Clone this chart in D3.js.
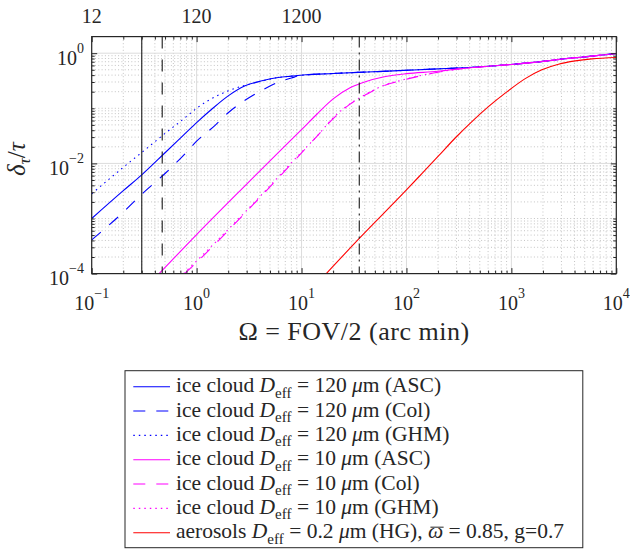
<!DOCTYPE html>
<html>
<head>
<meta charset="utf-8">
<script src="https://cdn.jsdelivr.net/npm/d3@7"></script>
<style>
html, body { margin: 0; padding: 0; background: #fff; }
svg { display: block; }
text { font-family: "Liberation Serif", "Times New Roman", serif; fill: #262626; }
</style>
</head>
<body>
<svg id="chart" width="630" height="549"></svg>
<script>
// ---- data: half field of view Ω (arc min) and relative error δτ/τ ----
const omegaIce120ASC = [0.1, 0.2, 0.3, 0.5, 0.75, 1, 1.4, 2, 2.9, 4.2, 6, 8, 11, 20, 35, 60, 100, 200, 300, 600, 1000, 2000, 3000, 5000, 10000];
const deltaIce120ASC = [1.0e-3, 3.2e-3, 6.2e-3, 0.0156, 0.0326, 0.055, 0.097, 0.168, 0.256, 0.315, 0.362, 0.383, 0.405, 0.428, 0.449, 0.468, 0.49, 0.52, 0.535, 0.58, 0.625, 0.71, 0.78, 0.857, 0.99];

const omegaIce120Col = [0.1, 0.2, 0.3, 0.5, 0.75, 1, 1.5, 2, 2.7, 4.2, 6.5, 8, 10, 11, 20, 35, 60, 100, 200, 300, 600, 1000, 2000, 3000, 5000, 10000];
const deltaIce120Col = [4.1e-4, 1.3e-3, 2.76e-3, 6.56e-3, 0.014, 0.0253, 0.049, 0.083, 0.128, 0.213, 0.315, 0.355, 0.398, 0.405, 0.428, 0.449, 0.468, 0.49, 0.52, 0.535, 0.58, 0.625, 0.71, 0.78, 0.857, 0.99];

const omegaIce120GHM = [0.1, 0.2, 0.3, 0.5, 0.75, 1, 1.27, 2, 3.7, 6, 8, 11, 20, 35, 60, 100, 200, 300, 600, 1000, 2000, 3000, 5000, 10000];
const deltaIce120GHM = [2.8e-3, 8.5e-3, 0.0158, 0.035, 0.064, 0.10, 0.136, 0.207, 0.294, 0.362, 0.383, 0.405, 0.428, 0.449, 0.468, 0.49, 0.52, 0.535, 0.58, 0.625, 0.71, 0.78, 0.857, 0.99];

const omegaIce10ASC = [0.44, 1, 3, 5, 10, 14, 20, 29, 42, 60, 100, 200, 300, 600, 1000, 2000, 3000, 5000, 10000];
const deltaIce10ASC = [1.0e-4, 5.1e-4, 4.2e-3, 0.0111, 0.041, 0.078, 0.148, 0.235, 0.31, 0.37, 0.425, 0.47, 0.515, 0.578, 0.625, 0.71, 0.78, 0.857, 0.99];

const omegaIce10Col = [0.77, 1, 3, 10, 14, 20, 29, 42, 60, 87, 105, 200, 300, 600, 1000, 2000, 3000, 5000, 10000];
const deltaIce10Col = [1.0e-4, 1.6e-4, 1.35e-3, 0.0155, 0.031, 0.065, 0.119, 0.181, 0.255, 0.315, 0.345, 0.45, 0.51, 0.578, 0.625, 0.71, 0.78, 0.857, 0.99];

const omegaIce10GHM = [0.75, 1, 3, 10, 14, 20, 29, 42, 60, 87, 105, 200, 300, 600, 1000, 2000, 3000, 5000, 10000];
const deltaIce10GHM = [1.0e-4, 1.7e-4, 1.4e-3, 0.016, 0.031, 0.067, 0.121, 0.184, 0.258, 0.318, 0.35, 0.452, 0.51, 0.578, 0.625, 0.71, 0.78, 0.857, 0.99];

const omegaAerosol = [17.2, 35.7, 100, 141, 203, 293, 423, 608, 879, 1355, 1950, 2812, 4064, 5848, 10000];
const deltaAerosol = [1.0e-4, 4.4e-4, 3.3e-3, 6.6e-3, 0.0138, 0.0292, 0.058, 0.108, 0.19, 0.345, 0.50, 0.63, 0.724, 0.789, 0.836];

// instrument half-FOV markers (arc min)
const markerOmega = [0.3, 0.47, 35.5];

// axis ticks
const xTickValues = [0.1, 1, 10, 100, 1000, 10000];
const xTickExponents = ["\u22121", "0", "1", "2", "3", "4"];
const yTickValues = [1e-4, 1e-2, 1];
const yTickExponents = ["\u22124", "\u22122", "0"];
const topTickValues = [12, 120, 1200];          // full FOV in arc sec
const topTickLabels = ["12", "120", "1200"];

// legend text pieces: plain strings, or [text, kind] with kind
// "i" (italic), "ibar" (italic with overbar) or "sub" (subscript)
const legendLabels = [
  ["ice cloud ", ["D", "i"], ["eff", "sub"], " = 120 ", ["\u03bc", "i"], "m (ASC)"],
  ["ice cloud ", ["D", "i"], ["eff", "sub"], " = 120 ", ["\u03bc", "i"], "m (Col)"],
  ["ice cloud ", ["D", "i"], ["eff", "sub"], " = 120 ", ["\u03bc", "i"], "m (GHM)"],
  ["ice cloud ", ["D", "i"], ["eff", "sub"], " = 10 ", ["\u03bc", "i"], "m (ASC)"],
  ["ice cloud ", ["D", "i"], ["eff", "sub"], " = 10 ", ["\u03bc", "i"], "m (Col)"],
  ["ice cloud ", ["D", "i"], ["eff", "sub"], " = 10 ", ["\u03bc", "i"], "m (GHM)"],
  ["aerosols ", ["D", "i"], ["eff", "sub"], " = 0.2 ", ["\u03bc", "i"], "m (HG), ", ["\u03c9", "ibar"], " = 0.85, g=0.7"]
];

const series = [
  { omega: omegaIce120ASC, delta: deltaIce120ASC, color: "#0000ff", dash: null },
  { omega: omegaIce120Col, delta: deltaIce120Col, color: "#0000ff", dash: "12,11" },
  { omega: omegaIce120GHM, delta: deltaIce120GHM, color: "#0000ff", dash: "1.5,4" },
  { omega: omegaIce10ASC,  delta: deltaIce10ASC,  color: "#ff00ff", dash: null },
  { omega: omegaIce10Col,  delta: deltaIce10Col,  color: "#ff00ff", dash: "12,11" },
  { omega: omegaIce10GHM,  delta: deltaIce10GHM,  color: "#ff00ff", dash: "1.5,4" },
  { omega: omegaAerosol,   delta: deltaAerosol,   color: "#ff0000", dash: null }
];
const markerDash = [null, "12,11", "11,5,2,5"];

// ---- layout ----
const plot = { left: 91.7, right: 616.3, top: 36.6, bottom: 273.6 };
const axisColor = "#262626";

const svg = d3.select("#chart");

const x = d3.scaleLog().domain([0.1, 1e4]).range([plot.left, plot.right]);
const xTop = d3.scaleLog().domain([12, 1.2e6]).range([plot.left, plot.right]);
const y = d3.scaleLog().domain([1e-4, 2]).range([plot.bottom, plot.top]);

// minor positions (k * 10^n)
const xMinor = [];
for (let n = -1; n < 4; n++) for (let k = 2; k <= 9; k++) xMinor.push(k * Math.pow(10, n));
const yMinor = [];
for (let n = -4; n <= 0; n++) for (let k = 1; k <= 9; k++) {
  const v = k * Math.pow(10, n);
  if (v < 1.99 && !yTickValues.some(t => Math.abs(t - v) / v < 1e-9)) yMinor.push(v);
}

// ---- grid ----
const grid = svg.append("g");
grid.selectAll("line.xminor").data(xMinor).join("line")
  .attr("x1", d => x(d)).attr("x2", d => x(d))
  .attr("y1", plot.top).attr("y2", plot.bottom)
  .attr("stroke", "#c4c4c4").attr("stroke-width", 1).attr("stroke-dasharray", "1,2.3");
grid.selectAll("line.yminor").data(yMinor).join("line")
  .attr("x1", plot.left).attr("x2", plot.right)
  .attr("y1", d => y(d)).attr("y2", d => y(d))
  .attr("stroke", "#c4c4c4").attr("stroke-width", 1).attr("stroke-dasharray", "1,2.3");
grid.selectAll("line.xmajor").data(xTickValues).join("line")
  .attr("x1", d => x(d)).attr("x2", d => x(d))
  .attr("y1", plot.top).attr("y2", plot.bottom)
  .attr("stroke", "#dcdcdc").attr("stroke-width", 1);
grid.selectAll("line.ymajor").data(yTickValues).join("line")
  .attr("x1", plot.left).attr("x2", plot.right)
  .attr("y1", d => y(d)).attr("y2", d => y(d))
  .attr("stroke", "#dcdcdc").attr("stroke-width", 1);

// ---- curves ----
svg.append("defs").append("clipPath").attr("id", "plotClip")
  .append("rect").attr("x", plot.left).attr("y", plot.top)
  .attr("width", plot.right - plot.left).attr("height", plot.bottom - plot.top);

const line = d3.line().x(d => x(d[0])).y(d => y(d[1])).curve(d3.curveMonotoneX);
const curves = svg.append("g").attr("clip-path", "url(#plotClip)");
series.forEach(s => {
  curves.append("path")
    .attr("d", line(s.omega.map((o, i) => [o, s.delta[i]])))
    .attr("fill", "none").attr("stroke", s.color).attr("stroke-width", 1.1)
    .attr("stroke-dasharray", s.dash);
});

// FOV markers
svg.append("g").selectAll("line").data(markerOmega).join("line")
  .attr("x1", d => x(d)).attr("x2", d => x(d))
  .attr("y1", plot.top).attr("y2", plot.bottom)
  .attr("stroke", "#1a1a1a").attr("stroke-width", 1.1)
  .attr("stroke-dasharray", (d, i) => markerDash[i]);

// ---- tick marks (inward, on all four sides) ----
function ticks(axis, transform) {
  const g = svg.append("g").attr("transform", transform).call(axis);
  g.select(".domain").remove();
  g.selectAll(".tick line").attr("stroke", axisColor);
  g.selectAll(".tick text").remove();
}
ticks(d3.axisBottom(x).tickValues(xTickValues).tickSize(-5.5).tickFormat(""), `translate(0,${plot.bottom})`);
ticks(d3.axisBottom(x).tickValues(xMinor).tickSize(-3).tickFormat(""), `translate(0,${plot.bottom})`);
ticks(d3.axisTop(x).tickValues(xTickValues).tickSize(-5.5).tickFormat(""), `translate(0,${plot.top})`);
ticks(d3.axisTop(x).tickValues(xMinor).tickSize(-3).tickFormat(""), `translate(0,${plot.top})`);
ticks(d3.axisLeft(y).tickValues(yTickValues).tickSize(-5.5).tickFormat(""), `translate(${plot.left},0)`);
ticks(d3.axisLeft(y).tickValues(yMinor).tickSize(-3).tickFormat(""), `translate(${plot.left},0)`);
ticks(d3.axisRight(y).tickValues(yTickValues).tickSize(-5.5).tickFormat(""), `translate(${plot.right},0)`);
ticks(d3.axisRight(y).tickValues(yMinor).tickSize(-3).tickFormat(""), `translate(${plot.right},0)`);

// frame
svg.append("rect")
  .attr("x", plot.left).attr("y", plot.top)
  .attr("width", plot.right - plot.left).attr("height", plot.bottom - plot.top)
  .attr("fill", "none").attr("stroke", axisColor).attr("stroke-width", 1.2);

// ---- tick labels ----
const xLab = svg.append("g").selectAll("text").data(xTickValues).join("text")
  .attr("x", d => x(d)).attr("y", 310).attr("text-anchor", "middle").style("font-size", "20px");
xLab.append("tspan").text("10");
xLab.append("tspan").attr("dy", -12).style("font-size", "14px").text((d, i) => xTickExponents[i]);

const yLab = svg.append("g").selectAll("text").data(yTickValues).join("text")
  .attr("x", 84).attr("y", d => y(d) + 11.8).attr("text-anchor", "end").style("font-size", "20px");
yLab.append("tspan").text("10");
yLab.append("tspan").attr("dy", -12).style("font-size", "14px").text((d, i) => yTickExponents[i]);

svg.append("g").selectAll("text").data(topTickValues).join("text")
  .attr("x", d => xTop(d)).attr("y", 23).attr("text-anchor", "middle")
  .style("font-size", "20px").text((d, i) => topTickLabels[i]);

// ---- axis titles ----
svg.append("text")
  .attr("x", (plot.left + plot.right) / 2).attr("y", 339.5)
  .attr("text-anchor", "middle").style("font-size", "26px").style("letter-spacing", "0.5px")
  .text("\u03a9 = FOV/2 (arc min)");

const yTitle = svg.append("text")
  .attr("transform", `translate(25,${(plot.top + plot.bottom) / 2 + 4}) rotate(-90)`)
  .attr("text-anchor", "middle").style("font-size", "25px");
yTitle.append("tspan").style("font-style", "italic").text("\u03b4");
yTitle.append("tspan").attr("dy", 5).style("font-size", "17px").style("font-style", "italic").text("\u03c4");
yTitle.append("tspan").attr("dy", -5).text("/");
yTitle.append("tspan").style("font-style", "italic").text("\u03c4");

// ---- legend ----
const leg = { left: 125, top: 370.7, width: 457.8, height: 177, row0: 386.7, rowStep: 24.33 };
const legend = svg.append("g");
legend.append("rect")
  .attr("x", leg.left).attr("y", leg.top).attr("width", leg.width).attr("height", leg.height)
  .attr("fill", "#fff").attr("stroke", axisColor).attr("stroke-width", 1);

series.forEach((s, i) => {
  const cy = leg.row0 + i * leg.rowStep;
  legend.append("line")
    .attr("x1", 133.3).attr("x2", 170).attr("y1", cy).attr("y2", cy)
    .attr("stroke", s.color).attr("stroke-width", 1.1).attr("stroke-dasharray", s.dash);
  const t = legend.append("text").attr("x", 176).attr("y", cy + 5.5)
    .style("font-size", "21.5px").attr("xml:space", "preserve").style("white-space", "pre");
  let shift = 0;
  const bars = [];
  legendLabels[i].forEach(p => {
    const txt = typeof p === "string" ? p : p[0];
    const kind = typeof p === "string" ? null : p[1];
    const sp = t.append("tspan").text(txt);
    if (kind === "i" || kind === "ibar") sp.style("font-style", "italic");
    if (kind === "ibar") bars.push(sp);
    if (kind === "sub") {
      sp.style("font-size", "15px").attr("dy", 5.5);
      shift = 5.5;
    } else if (shift) {
      sp.attr("dy", -shift);
      shift = 0;
    }
  });
  // overbar above the marked symbol
  bars.forEach(sp => {
    const b = sp.node().getBBox();
    legend.append("line")
      .attr("x1", b.x + 2.5).attr("x2", b.x + b.width + 0.5)
      .attr("y1", cy - 5.5).attr("y2", cy - 5.5)
      .attr("stroke", axisColor).attr("stroke-width", 1);
  });
});
</script>
</body>
</html>
